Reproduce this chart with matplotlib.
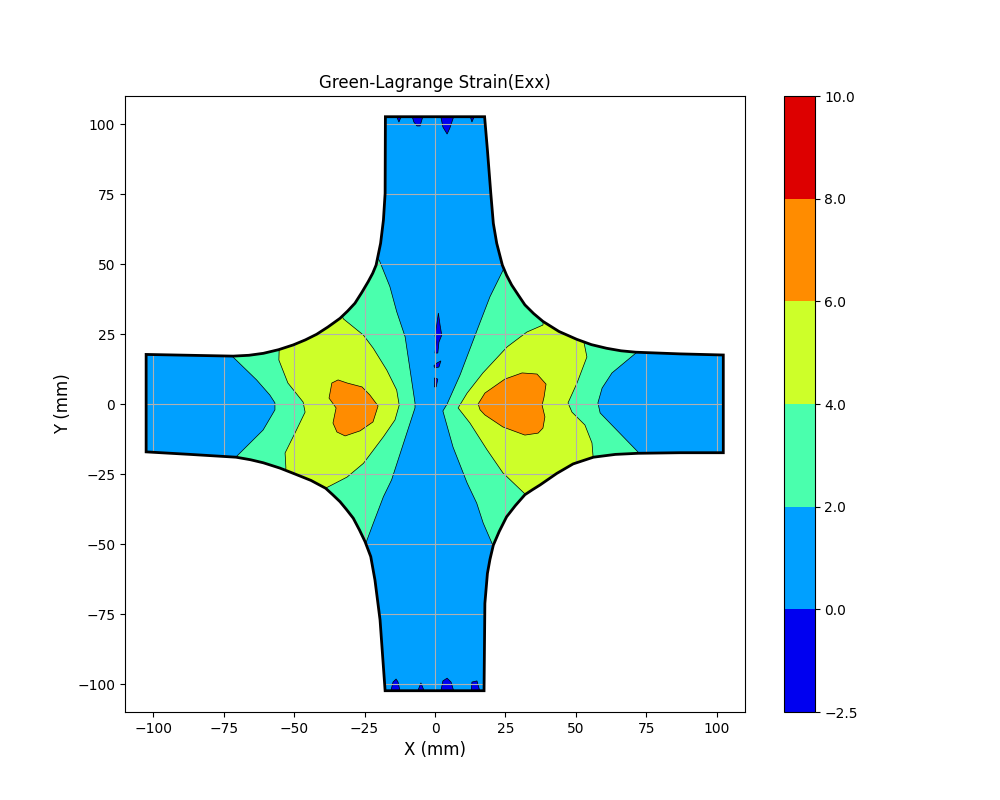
import matplotlib
matplotlib.use("Agg")
import matplotlib.pyplot as plt
from matplotlib.colors import ListedColormap, BoundaryNorm
from matplotlib.cm import ScalarMappable
from matplotlib.patches import Polygon

levels = [-2.5, 0, 2, 4, 6, 8, 10]
level_colors = ["#0000f0", "#00a0ff", "#4affad", "#cdff29", "#ff8c00", "#dd0000"]

specimen_outline = [
    (-17.6, 102.6), (17.6, 102.6), (18.6, 90.7), (19.8, 75.2), (20.7, 64.5), (21.9, 57.4),
    (23.9, 49.6), (25.4, 46), (27.2, 42.5), (29.5, 39), (31.9, 35.4), (35, 32.3), (38.3, 29.5),
    (44, 25.9), (50.3, 23.1), (55.5, 21.2), (60.9, 19.9), (66, 19), (71.2, 18.5), (86.9, 17.9),
    (102.3, 17.5),
    (102.3, -17.4), (86.9, -17.4), (72.1, -17.6), (64, -18), (56.2, -19), (49, -21.4),
    (43.2, -24.8), (37.3, -28.9), (34.6, -30.6), (31.9, -32.4), (28.5, -36.3), (25.4, -40.3),
    (22.8, -45.5), (20.7, -50.4), (19.5, -55.5), (18.6, -60.5), (17.7, -71.2), (17.4, -102.4),
    (-17.7, -102.4), (-19.5, -77.1), (-21.3, -62.9), (-22.8, -54.5), (-24.8, -49.2),
    (-26.8, -45), (-29, -40.8), (-31.4, -37.7), (-33.7, -34.9), (-36.3, -32.4), (-38.8, -30.1),
    (-44, -27.3), (-49.7, -25), (-55, -22.9), (-60.9, -21), (-65.5, -19.9), (-70.6, -19),
    (-86.9, -18), (-102.5, -17.1), (-102.5, 17.7), (-71.6, 17.1), (-66, 17.4), (-60.9, 18.1),
    (-55.5, 19.4), (-50.3, 21.1), (-46, 22.9), (-42, 24.9), (-38, 27.5), (-33.7, 30.6),
    (-31, 33.2), (-28.4, 36), (-26, 39.8), (-23.7, 43.7), (-22.1, 46.7), (-20.9, 49.6),
    (-19.3, 57.4), (-18.3, 65.7), (-17.7, 75.2),
]

band_2_4_left = [
    (-71.8, 16.9), (-63.3, 8.6), (-58.6, 3.2), (-56.8, 0.4), (-56.8, -2.1), (-61, -9.3),
    (-70.6, -18.9), (-72.7, -23.6), (-47.9, -34.3), (-28.4, -55.7), (-24.5, -49.6),
    (-21.9, -42.6), (-18.3, -33.1), (-15.4, -27.1), (-7.1, -1.4), (-7.1, 0.4), (-10.6, 24),
    (-13.6, 33), (-16, 41.9), (-19.8, 51.4),
    (-24.8, 53.2), (-33.7, 37.1), (-47.9, 26.4), (-74.5, 21.1),
]
band_2_4_right = [
    (24.2, 47.9), (19.5, 38.3), (15.4, 27.6), (8.9, 10.4), (4.3, 0), (2.8, -2.5), (6.4, -15.4),
    (11.4, -28.2), (14.8, -35.4), (17.1, -42.5), (20.5, -50.4), (23.1, -59.3), (44.4, -34.3),
    (72.7, -23.6), (72, -17.1), (58.6, -3.2), (57.8, 0.4), (59.3, 5.7), (62.8, 11.1),
    (71.3, 18.2), (74.5, 22.9), (44.4, 33.6), (26.6, 53.2),
]
band_4_6_left = [
    (-55.3, 19.3), (-55.4, 15.7), (-52.2, 7.5), (-46.8, 0.7), (-46.1, -2.9), (-49.7, -10.4),
    (-53.2, -17.5), (-52.9, -22.9), (-55, -30.7), (-40.8, -34.3), (-38.7, -30), (-31.2, -26.1),
    (-25.4, -21.2), (-18.3, -11.7), (-14.2, -5.7), (-12.7, -0.4), (-13.6, 5), (-17.1, 12.1),
    (-21.9, 19.9), (-25.4, 24.6), (-32.5, 30.4), (-35.5, 37.1), (-56.8, 24.6),
]
band_4_6_right = [
    (38.3, 28.2), (32.6, 25.7), (25.6, 20.4), (17, 11.1), (11.4, 3.9), (8.2, -1.4), (12.4, -6.8),
    (18.5, -16.4), (24.1, -24.6), (31.9, -32.1), (37.3, -37.9), (58.6, -25.4), (56.1, -18.9),
    (55.7, -13.9), (53.2, -7.5), (48.6, -2.9), (47.2, 0.4), (50.4, 7.5), (53.9, 16.8),
    (52.9, 21.8), (55, 28.2), (39, 37.1),
]
band_6_8_left = [
    (-34.4, 8.6), (-36.6, 7.5), (-37.6, 2.1), (-35.1, -1.4), (-36.2, -6.8), (-34.8, -10),
    (-31.9, -11.4), (-26.6, -9.6), (-22, -6.4), (-20.2, -0.7), (-23.1, 3.2), (-25.9, 6.1),
    (-31.2, 7.5),
]
band_6_8_right = [
    (15.3, 0), (17.7, 3.9), (24.8, 8.9), (30.9, 11.1), (36.2, 10.7), (39.4, 7.1), (38.7, 2.5),
    (38, -0.4), (39, -4.6), (38.3, -8.6), (36.6, -10.4), (31.9, -11.1), (24.1, -8.2),
    (17.7, -3.9), (16, -2.1),
]
negative_top = [
    [(-14.2, 104), (-12.8, 100.7), (-11.4, 104)],
    [(-8.5, 104), (-7.5, 100.7), (-6.4, 99.3), (-5.3, 99.3), (-3.9, 104)],
    [(1.8, 104), (2.8, 98.9), (4.3, 96.4), (5.3, 98.6), (7.1, 104)],
    [(12.1, 104), (13.1, 100.7), (14.5, 104)],
]
negative_bottom = [
    [(-16, -104), (-14.9, -99.3), (-13.8, -98.2), (-13.1, -99.3), (-12.1, -104)],
    [(-6.7, -104), (-5, -99.6), (-3.2, -104)],
    [(1.8, -104), (2.8, -98.9), (4.3, -97.9), (5.7, -99.3), (7.1, -104)],
    [(12.8, -104), (13.1, -99.3), (14.9, -98.9), (16.3, -104)],
]
negative_center = [
    [(1.2, 32.5), (1.8, 28.2), (2.4, 24.6), (1.4, 22.1), (1, 18.2), (0, 18.2), (0.4, 22.1),
     (0, 24.6), (0.6, 28.2)],
    [(2.1, 15.4), (1.4, 13.2), (0, 12.9), (-0.4, 13.6), (0.6, 14.6)],
    [(-0.2, 9.3), (1, 8.9), (0.4, 6.1), (-0.2, 6.1)],
]

title = "Green-Lagrange Strain(Exx)"
x_label = "X (mm)"
y_label = "Y (mm)"

fig, ax = plt.subplots(figsize=(10, 8), dpi=100)
ax.set_xlim(-110, 110)
ax.set_ylim(-110, 110)

base = Polygon(specimen_outline, closed=True, facecolor=level_colors[1], edgecolor="none", zorder=1)
ax.add_patch(base)


def add_regions(regions, color):
    for verts in regions:
        p = Polygon(verts, closed=True, facecolor=color, edgecolor="black", linewidth=0.5, zorder=1)
        ax.add_patch(p)
        p.set_clip_path(base)


add_regions([band_2_4_left, band_2_4_right], level_colors[2])
add_regions([band_4_6_left, band_4_6_right], level_colors[3])
add_regions([band_6_8_left, band_6_8_right], level_colors[4])
add_regions(negative_top + negative_bottom + negative_center, level_colors[0])

ax.add_patch(Polygon(specimen_outline, closed=True, fill=False, edgecolor="black", linewidth=2, zorder=2))

ax.grid(True)
ax.set_title(title, fontsize=12)
ax.set_xlabel(x_label, fontsize=12)
ax.set_ylabel(y_label, fontsize=12)

cmap = ListedColormap(level_colors)
norm = BoundaryNorm(levels, cmap.N)
cbar = fig.colorbar(ScalarMappable(norm=norm, cmap=cmap), ax=ax, ticks=levels, spacing="uniform")
cbar.ax.set_yticklabels([f"{v:.1f}".replace("-", "\u2212") for v in levels])
cbar.ax.minorticks_off()

fig.canvas.draw()
for line in ax.get_xgridlines() + ax.get_ygridlines():
    line.set_clip_path(base)

fig.savefig("out.png", dpi=100)
